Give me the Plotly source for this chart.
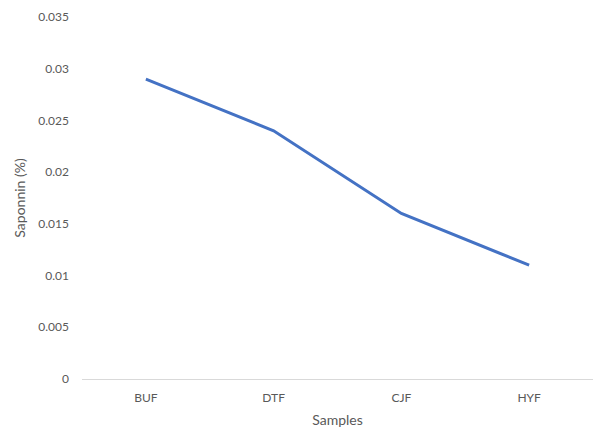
import plotly.graph_objects as go

samples = ["BUF", "DTF", "CJF", "HYF"]
saponnin = [0.029, 0.024, 0.016, 0.011]
y_ticks = [0, 0.005, 0.01, 0.015, 0.02, 0.025, 0.03, 0.035]
y_tick_labels = ["0", "0.005", "0.01", "0.015", "0.02", "0.025", "0.03", "0.035"]

fig = go.Figure()
fig.add_trace(go.Scatter(x=samples, y=saponnin, mode="lines",
                         line=dict(color="#4472C4", width=3)))

fig.update_layout(
    width=594, height=430,
    margin=dict(l=82, r=1, t=17, b=51),
    paper_bgcolor="white", plot_bgcolor="white",
    font=dict(family="Lato, Open Sans, sans-serif", size=12, color="#595959"),
    showlegend=False,
    xaxis=dict(
        title=dict(text="Samples", font=dict(size=14), standoff=10),
        range=[-0.5, 3.5],
        showgrid=False, showline=True, linecolor="#D9D9D9", linewidth=1,
        ticks="", ticklabelstandoff=8,
    ),
    yaxis=dict(
        title=dict(text="Saponnin (%)", font=dict(size=14), standoff=9),
        range=[0, 0.035], tickvals=y_ticks, ticktext=y_tick_labels,
        showgrid=False, zeroline=False, showline=False, ticks="",
        ticklabelstandoff=12,
    ),
)

fig.write_html("out.html", config={"displayModeBar": False},
               post_script="document.body.style.margin='0';document.body.style.overflow='hidden';")
